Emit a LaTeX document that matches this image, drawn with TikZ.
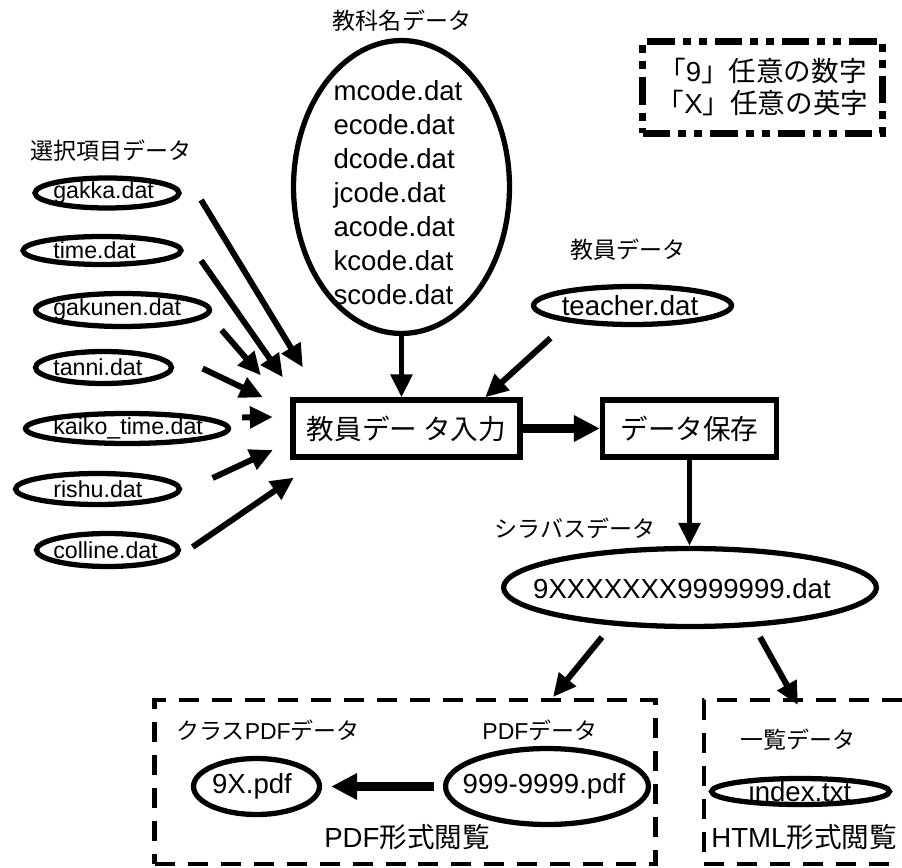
\documentclass[tikz,border=0pt]{standalone}
\usepackage{fontspec}
\setmainfont{Liberation Sans}
\newfontfamily\jp{Noto Sans CJK JP}
\usetikzlibrary{shapes.geometric,arrows.meta}

\tikzset{
  datov/.style={draw, ellipse, line width=3pt, inner sep=0pt},
  procbox/.style={draw, rectangle, line width=3pt, inner sep=0pt, minimum height=1.14cm,
    font=\jp\fontsize{15.7}{19}\selectfont},
  flow/.style={line width=3.4pt, -{Triangle[length=0.46cm,width=0.42cm]}},
  bigflow/.style={line width=4.6pt, -{Triangle[length=0.52cm,width=0.5cm]}},
  grpbox/.style={draw, rectangle, dash pattern=on 0.4cm off 0.26cm, line width=2.6pt,
    outer sep=0pt, minimum height=3.28cm},
  keybox/.style={draw, rectangle, line width=4pt,
    dash pattern=on 0.55cm off 0.16cm on 0.16cm off 0.16cm on 0.16cm off 0.16cm},
  bigtxt/.style={font=\fontsize{15.7}{19}\selectfont},
  smalltxt/.style={font=\fontsize{13.2}{16}\selectfont, inner sep=0pt},
  tag/.style={font=\jp\fontsize{13.1}{16}\selectfont, inner sep=0pt},
}

\begin{document}
\begin{tikzpicture}[x=0.02cm, y=-0.02cm]
  \useasboundingbox (0,0) rectangle (902,868);

  % legend
  \node[keybox, minimum width=4.8cm, minimum height=1.84cm, align=center,
    font=\jp\fontsize{15.7}{18.2}\selectfont] (legend) at (762.5,87.5)
    {「\textrm{9}」任意の数字\\「\textrm{X}」任意の英字};

  % subject names
  \node[tag] (kamoku-l) at (402,21) {教科名データ};
  \node[datov, minimum width=4.32cm, minimum height=5.86cm] (kamoku) at (401.5,187) {};
  \node[bigtxt, align=left, font=\fontsize{15.7}{19.4}\selectfont] (kamoku-t) at (398,192.5)
    {mcode.dat\\ecode.dat\\dcode.dat\\jcode.dat\\acode.dat\\kcode.dat\\scode.dat};

  % selection items
  \node[tag] (sentaku-l) at (111,151) {選択項目データ};
  \node[datov, minimum width=2.88cm, minimum height=0.6cm] (gakka) at (107,193) {};
  \node[datov, minimum width=3.16cm, minimum height=0.56cm] (time) at (102,250.5) {};
  \node[datov, minimum width=3.48cm, minimum height=0.66cm] (gakunen) at (122.5,310) {};
  \node[datov, minimum width=2.72cm, minimum height=0.64cm] (tanni) at (103.5,367.5) {};
  \node[datov, minimum width=4.06cm, minimum height=0.6cm] (kaiko) at (127,428.5) {};
  \node[datov, minimum width=3.28cm, minimum height=0.62cm] (rishu) at (97.5,489) {};
  \node[datov, minimum width=2.84cm, minimum height=0.66cm] (colline) at (107.5,550) {};
  \node[smalltxt, anchor=west] (gakka-t) at (53,193) {gakka.dat};
  \node[smalltxt, anchor=west] (time-t) at (53,250.5) {time.dat};
  \node[smalltxt, anchor=west] (gakunen-t) at (53,310) {gakunen.dat};
  \node[smalltxt, anchor=west] (tanni-t) at (53,367.5) {tanni.dat};
  \node[smalltxt, anchor=west] (kaiko-t) at (53,428.5) {kaiko\_time.dat};
  \node[smalltxt, anchor=west] (rishu-t) at (53,489) {rishu.dat};
  \node[smalltxt, anchor=west] (colline-t) at (53,550) {colline.dat};

  % teacher
  \node[tag] (teacher-l) at (628,250) {教員データ};
  \node[datov, minimum width=3.96cm, minimum height=0.76cm] (teacher) at (632.5,305.5) {};
  \node[bigtxt] (teacher-t) at (630,305.5) {teacher.dat};

  % processes
  \node[procbox, minimum width=4.54cm] (input) at (406.5,428.5) {教員デー タ入力};
  \node[procbox, minimum width=3.48cm] (save) at (689.5,428.5) {データ保存};

  % syllabus
  \node[tag] (sy-l) at (575,528) {シラバスデータ};
  \node[datov, minimum width=7.46cm, minimum height=1.56cm] (sy) at (690,587.5) {};
  \node[bigtxt] (sy-t) at (682,589) {9XXXXXXX9999999.dat};

  % pdf view
  \node[grpbox, minimum width=10.02cm] (pdfgrp) at (405,782) {};
  \node[tag] (cls-l) at (268,730) {クラス\textrm{PDF}データ};
  \node[tag] (pdfd-l) at (540,730) {\textrm{PDF}データ};
  \node[datov, minimum width=2.52cm, minimum height=1.12cm] (cls) at (256.5,786.5) {};
  \node[bigtxt] (cls-t) at (252,786.5) {9X.pdf};
  \node[datov, minimum width=4.06cm, minimum height=1.52cm] (pdfd) at (547,786.5) {};
  \node[bigtxt] (pdfd-t) at (544,786.5) {999-9999.pdf};
  \node[bigtxt, font=\jp\fontsize{15.7}{19}\selectfont] (pdfgrp-l) at (407,837) {\textrm{PDF}形式閲覧};

  % html view
  \node[grpbox, anchor=north west, minimum width=4.3cm] (htmlgrp) at (704,700) {};
  \node[tag] (idx-l) at (798,740) {一覧データ};
  \node[datov, minimum width=3.56cm, minimum height=0.52cm] (idx) at (800.5,791.5) {};
  \node[bigtxt] (idx-t) at (800,791.5) {index.txt};
  \node[bigtxt, anchor=west, inner sep=0pt, font=\jp\fontsize{15.7}{19}\selectfont] (htmlgrp-l) at (711,837) {\textrm{HTML}形式閲覧};

  % arrows into the input box
  \draw[flow] ([shift={(19.5,7)}]gakka.east) -- ([shift={(12.5,-30)}]input.north west);
  \draw[flow] ([shift={(17.5,10)}]time.east) -- ([shift={(-7.5,-20)}]input.north west);
  \draw[flow] ([shift={(9.5,20)}]gakunen.east) -- ([shift={(-29.5,-22)}]input.north west);
  \draw[flow] ([shift={(28.5,1)}]tanni.east) -- ([shift={(-27.5,0)}]input.north west);
  \draw[flow] ([shift={(11,-11)}]kaiko.east) -- ([shift={(-17.5,-11.5)}]input.west);
  \draw[flow] ([shift={(30.5,-11)}]rishu.east) -- ([shift={(-17.5,21.5)}]input.west);
  \draw[flow] ([shift={(11.5,-3)}]colline.east) -- ([shift={(3.5,18)}]input.south west);
  \draw[flow] (kamoku.south) -- (kamoku.south |- input.north);
  \draw[flow] ([shift={(-82,11)}]teacher.south) -- ([shift={(-37.5,0)}]input.north east);

  % main flow
  \draw[bigflow] (input) -- (save);
  \draw[flow] (save.south) -- (save.south |- sy.north);
  \draw[flow] ([shift={(-88,8)}]sy.south) -- ([shift={(148,-3)}]pdfgrp.north);
  \draw[flow] ([shift={(70,8)}]sy.south) -- ([shift={(94,5)}]htmlgrp.north west);
  \draw[bigflow] ([shift={(-9,0)}]pdfd.west) -- ([shift={(9,0)}]cls.east);

\end{tikzpicture}
\end{document}
